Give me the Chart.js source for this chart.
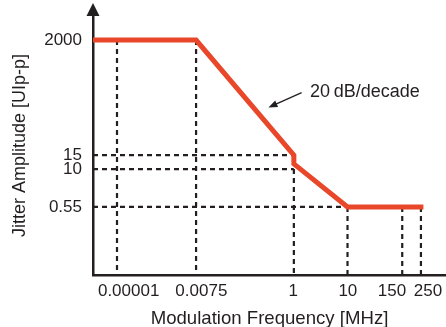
<!DOCTYPE html>
<html>
<head>
<meta charset="utf-8">
<script src="https://cdn.jsdelivr.net/npm/chart.js@4.4.1/dist/chart.umd.min.js"></script>
<style>
  html, body { margin: 0; padding: 0; background: #fff; }
  #wrap { width: 446px; height: 327px; }
</style>
</head>
<body>
<div id="wrap"><canvas id="jtol" width="446" height="327"></canvas></div>
<script>
// schematic axes (not to scale): every label gets its own position on a 0..100 axis
var freqLabels   = ['0.00001', '0.0075', '1', '10', '150', '250'];
var freqPos      = [6.8, 29.2, 56.9, 72.1, 87.6, 92.9];
var freqLabelPos = [10.1, 30.7, 56.7, 72.2, 84.7, 94.9];

var ampLabels = ['2000', '15', '10', '0.55'];
var ampPos    = [90.7, 46.3, 40.9, 26.3];

// jitter tolerance mask corners
var maskX = [0, 29.2, 56.9, 56.9, 72.1, 93.6];
var maskY = [90.7, 90.7, 46.3, 42.9, 26.3, 26.3];

// dashed guides: verticals rise to an amplitude, horizontals (15, 10, 0.55) run out to a frequency
var vGuideTop = [90.7, 90.7, 40.9, 26.3, 26.3, 26.3];
var hGuideEnd = [56.9, 56.9, 72.1];

var slopeText   = '20\u2009dB/decade';
var slopeTextAt = [61.5, 70.7];
var slopeArrow  = [[59.1, 70.4], [49.7, 64.7]];

var ink = '#231f20';
var red = '#e8472a';
var family = '"Liberation Sans", Arial, sans-serif';

var guides = [];
freqPos.forEach(function (x, i) {
	guides.push({x: x, y: vGuideTop[i]}, {x: x, y: 0}, {x: x, y: null});
});
ampPos.slice(1).forEach(function (y, i) {
	guides.push({x: 0, y: y}, {x: hGuideEnd[i], y: y}, {x: hGuideEnd[i], y: null});
});

var extras = {
	id: 'extras',
	afterDraw: function (chart) {
		var ctx = chart.ctx, a = chart.chartArea;
		var xs = chart.scales.x, ys = chart.scales.y;
		ctx.save();
		// arrow head on top of the amplitude axis
		ctx.fillStyle = ink;
		ctx.beginPath();
		ctx.moveTo(a.left, a.top - 13);
		ctx.lineTo(a.left - 6.5, a.top);
		ctx.lineTo(a.left + 6.5, a.top);
		ctx.closePath();
		ctx.fill();

		// slope note
		ctx.font = '18px ' + family;
		ctx.textBaseline = 'middle';
		ctx.textAlign = 'left';
		ctx.fillText(slopeText, xs.getPixelForValue(slopeTextAt[0]), ys.getPixelForValue(slopeTextAt[1]));

		var x1 = xs.getPixelForValue(slopeArrow[0][0]), y1 = ys.getPixelForValue(slopeArrow[0][1]);
		var x2 = xs.getPixelForValue(slopeArrow[1][0]), y2 = ys.getPixelForValue(slopeArrow[1][1]);
		var ang = Math.atan2(y2 - y1, x2 - x1);
		ctx.strokeStyle = ink;
		ctx.lineWidth = 1.3;
		ctx.beginPath();
		ctx.moveTo(x1, y1);
		ctx.lineTo(x2 - 7 * Math.cos(ang), y2 - 7 * Math.sin(ang));
		ctx.stroke();
		ctx.beginPath();
		ctx.moveTo(x2, y2);
		ctx.lineTo(x2 - 9 * Math.cos(ang) + 3.5 * Math.sin(ang), y2 - 9 * Math.sin(ang) - 3.5 * Math.cos(ang));
		ctx.lineTo(x2 - 9 * Math.cos(ang) - 3.5 * Math.sin(ang), y2 - 9 * Math.sin(ang) + 3.5 * Math.cos(ang));
		ctx.closePath();
		ctx.fill();
		ctx.restore();
	}
};

new Chart(document.getElementById('jtol'), {
	type: 'line',
	data: {
		datasets: [{
			data: maskX.map(function (x, i) { return {x: x, y: maskY[i]}; }),
			borderColor: red,
			borderWidth: 5,
			borderJoinStyle: 'miter',
			pointRadius: 0,
			order: 0
		}, {
			data: guides,
			borderColor: ink,
			borderWidth: 2.2,
			borderDash: [5, 4],
			pointRadius: 0,
			spanGaps: false,
			order: 1
		}]
	},
	options: {
		responsive: false,
		animation: false,
		layout: { padding: { top: 16, left: 0, right: 0, bottom: 0 } },
		plugins: { legend: { display: false }, tooltip: { enabled: false } },
		scales: {
			x: {
				type: 'linear', min: 0, max: 100,
				grid: { display: false, drawTicks: false },
				border: { color: ink, width: 2.5 },
				afterBuildTicks: function (s) { s.ticks = freqLabelPos.map(function (v) { return {value: v}; }); },
				ticks: {
					autoSkip: false, maxRotation: 0, padding: 6, color: ink,
					font: { family: family, size: 17 },
					callback: function (v, i) { return freqLabels[i]; }
				},
				title: {
					display: true, text: 'Modulation Frequency [MHz]', color: ink,
					font: { family: family, size: 18.6, lineHeight: 0.9 },
					padding: { top: 0, bottom: 0 }
				},
				afterFit: function (s) { s.height = 52; s.paddingLeft = 0; s.paddingRight = 0; }
			},
			y: {
				type: 'linear', min: 0, max: 100,
				grid: { display: false, drawTicks: false },
				border: { color: ink, width: 2.5 },
				afterBuildTicks: function (s) { s.ticks = ampPos.map(function (v) { return {value: v}; }); },
				ticks: {
					autoSkip: false, padding: 11, color: ink,
					font: { family: family, size: 17 },
					callback: function (v, i) { return ampLabels[i]; }
				},
				title: {
					display: true, text: 'Jitter Amplitude [UIp-p]', color: ink,
					font: { family: family, size: 18 },
					padding: { top: 9, bottom: 0 }
				},
				afterFit: function (s) { s.width = 93; s.paddingTop = 0; s.paddingBottom = 0; }
			}
		}
	},
	plugins: [extras]
});
</script>
</body>
</html>
